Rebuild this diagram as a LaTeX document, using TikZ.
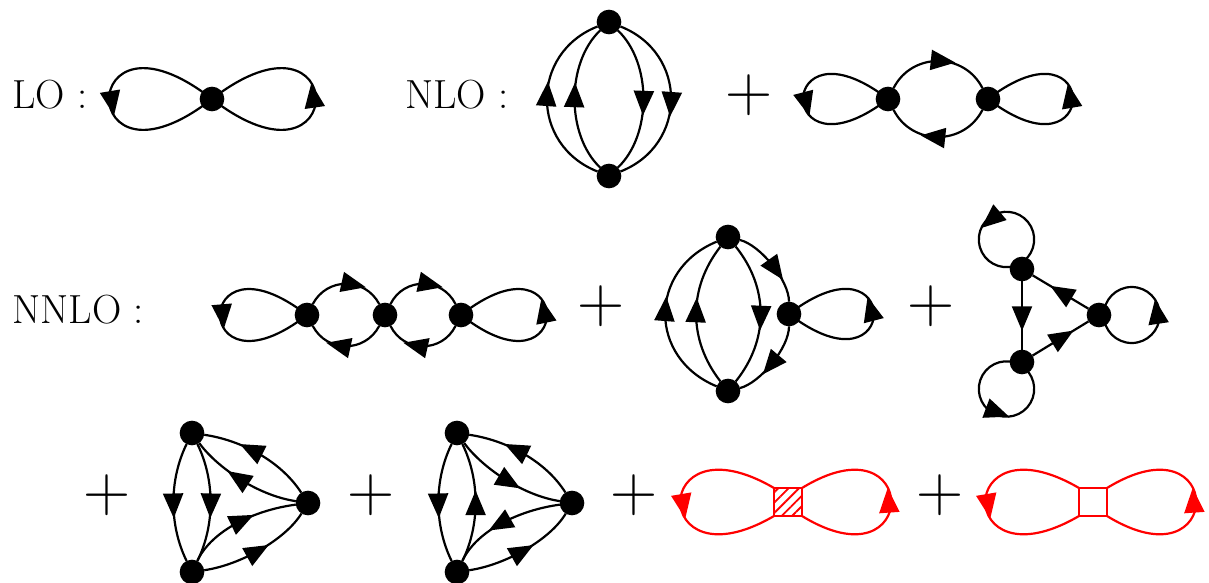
\documentclass[tikz,border=0pt]{standalone}
\usetikzlibrary{arrows.meta,decorations.markings,calc,patterns.meta}
\tikzset{
  x=0.75pt,y=-0.75pt,
  vtx/.style={circle,fill=black,inner sep=0pt,outer sep=0pt,minimum size=18.5pt},
  lin/.style={line width=1.65pt},
  ar/.style={postaction={decorate,decoration={markings,mark=at position #1 with {\pgftransformxshift{9pt}\arrow{Triangle[length=18.5pt,width=15pt]}}}}},
  arl/.style={postaction={decorate,decoration={markings,mark=at position #1 with {\pgftransformxshift{9pt}\pgftransformyshift{2pt}\arrow{Triangle[length=18.5pt,width=15pt]}}}}},
  lab/.style={anchor=base west,inner sep=0pt,font=\fontsize{30.5}{32}\selectfont},
  plusnode/.style={inner sep=0pt,font=\fontsize{49}{49}\selectfont},
  sq/.style={draw=red,line width=1.65pt,minimum size=21pt,inner sep=0pt,outer sep=0pt},
  rl/.style={lin,draw=red},
}
\newcommand{\lobeR}[4]{\draw[lin,arl=#4] (#1.center) .. controls ($(#1)+(1.333*#2,#3)$) and ($(#1)+(1.333*#2,-#3)$) .. (#1.center);}
\newcommand{\lobeL}[4]{\draw[lin,arl=#4] (#1.center) .. controls ($(#1)+(-1.333*#2,-#3)$) and ($(#1)+(-1.333*#2,#3)$) .. (#1.center);}
\begin{document}
\begin{tikzpicture}
\useasboundingbox (0,0) rectangle (1209,582);
% LO
\node[lab] (tLO) at (12,108) {LO :};
\node[vtx] (lo) at (212,99) {};
\lobeL{lo}{103}{107}{.52}
\lobeR{lo}{104}{107}{.517}
% NLO
\node[lab] (tNLO) at (405,108) {NLO :};
\node[vtx] (nt) at (609,22) {};
\node[vtx] (nb) at (609,176) {};
\draw[lin,ar=.53] (nb) .. controls (530,145) and (530,53) .. (nt);
\draw[lin,ar=.53] (nb) .. controls (566,135) and (566,63) .. (nt);
\draw[lin,ar=.53] (nt) .. controls (652,63) and (652,135) .. (nb);
\draw[lin,ar=.53] (nt) .. controls (688,53) and (688,145) .. (nb);
\node[plusnode] (p1) at (749,95) {+};
\node[vtx] (m1) at (888,99) {};
\node[vtx] (m2) at (988,99) {};
\lobeL{m1}{85}{87}{.53}
\lobeR{m2}{85}{87}{.52}
\draw[lin,ar=.55] (m1) .. controls (912,52) and (964,52) .. (m2);
\draw[lin,ar=.55] (m2) .. controls (964,146) and (912,146) .. (m1);
% NNLO
\node[lab] (tNNLO) at (12,323) {NNLO :};
\node[vtx] (a1) at (307,315) {};
\node[vtx] (a2) at (385,315) {};
\node[vtx] (a3) at (461,315) {};
\lobeL{a1}{87}{90}{.51}
\lobeR{a3}{86}{90}{.525}
\draw[lin,ar=.6] (a1) .. controls (327,277) and (365,277) .. (a2);
\draw[lin,ar=.6] (a2) .. controls (365,353) and (327,353) .. (a1);
\draw[lin,ar=.6] (a2) .. controls (404,277) and (442,277) .. (a3);
\draw[lin,ar=.6] (a3) .. controls (442,353) and (404,353) .. (a2);
\node[plusnode] (p2) at (601,306) {+};
\node[vtx] (bt) at (728,237) {};
\node[vtx] (bb) at (728,391) {};
\node[vtx] (br) at (789,314) {};
\lobeR{br}{85}{87}{.53}
\draw[lin,ar=.53] (bb) .. controls (648,358) and (648,270) .. (bt);
\draw[lin,ar=.53] (bb) .. controls (688,340) and (688,288) .. (bt);
\draw[lin,ar=.53] (bt) .. controls (769,288) and (769,340) .. (bb);
\draw[lin,ar=.58] (bt) .. controls (760,245) and (789,280) .. (br);
\draw[lin,ar=.53] (br) .. controls (789,348) and (760,383) .. (bb);
\node[plusnode] (p3) at (931,306) {+};
\node[vtx] (c1) at (1022,269) {};
\node[vtx] (c2) at (1099,315) {};
\node[vtx] (c3) at (1022,362) {};
\draw[lin,arl=.535] ($(c1)+(-2.7,-5)$) arc[start angle=62.4,delta angle=-360,radius=27.7];
\draw[lin,arl=.527] ($(c3)+(-1.7,3)$) arc[start angle=-60.1,delta angle=-360,radius=27.7];
\draw[lin,arl=.524] ($(c2)+(4.7,0)$) arc[start angle=180,delta angle=-360,radius=28];
\draw[lin,ar=.55] (c1) -- (c3);
\draw[lin,ar=.5] (c2) -- (c1);
\draw[lin,ar=.55] (c3) -- (c2);
% third row
\node[plusnode] (p4) at (107,495) {+};
\node[vtx] (d1) at (192,433) {};
\node[vtx] (d2) at (192,572) {};
\node[vtx] (d3) at (308,503) {};
\draw[lin,ar=.53] (d1) .. controls (169,480) and (169,525) .. (d2);
\draw[lin,ar=.53] (d1) .. controls (215,480) and (215,525) .. (d2);
\draw[lin,ar=.58] (d3) .. controls (280,460) and (240,440) .. (d1);
\draw[lin,ar=.55] (d3) .. controls (255,495) and (215,465) .. (d1);
\draw[lin,ar=.53] (d2) .. controls (212,530) and (255,510) .. (d3);
\draw[lin,ar=.5] (d2) .. controls (240,565) and (285,540) .. (d3);
\node[plusnode] (p5) at (371,495) {+};
\node[vtx] (e1) at (457,433) {};
\node[vtx] (e2) at (457,572) {};
\node[vtx] (e3) at (572,503) {};
\draw[lin,ar=.53] (e1) .. controls (434,480) and (434,525) .. (e2);
\draw[lin,ar=.5] (e2) .. controls (480,525) and (480,480) .. (e1);
\draw[lin,ar=.58] (e3) .. controls (545,460) and (505,440) .. (e1);
\draw[lin,ar=.53] (e1) .. controls (480,465) and (520,495) .. (e3);
\draw[lin,ar=.55] (e3) .. controls (520,510) and (477,530) .. (e2);
\draw[lin,ar=.5] (e2) .. controls (505,565) and (550,540) .. (e3);
\node[plusnode] (p6) at (634,495) {+};
\node[sq,pattern={Lines[angle=45,distance=5.5pt,line width=1.4pt]},pattern color=red] (q1) at (788,502) {};
\draw[rl,arl=.522] (q1.north west) .. controls (649,415) and (649,589) .. (q1.south west);
\draw[rl,arl=.51] (q1.south east) .. controls (921,589) and (921,415) .. (q1.north east);
\node[plusnode] (p7) at (940,495) {+};
\node[sq] (q2) at (1093,502) {};
\draw[rl,arl=.522] (q2.north west) .. controls (954,415) and (954,589) .. (q2.south west);
\draw[rl,arl=.51] (q2.south east) .. controls (1226,589) and (1226,415) .. (q2.north east);
\end{tikzpicture}
\end{document}
